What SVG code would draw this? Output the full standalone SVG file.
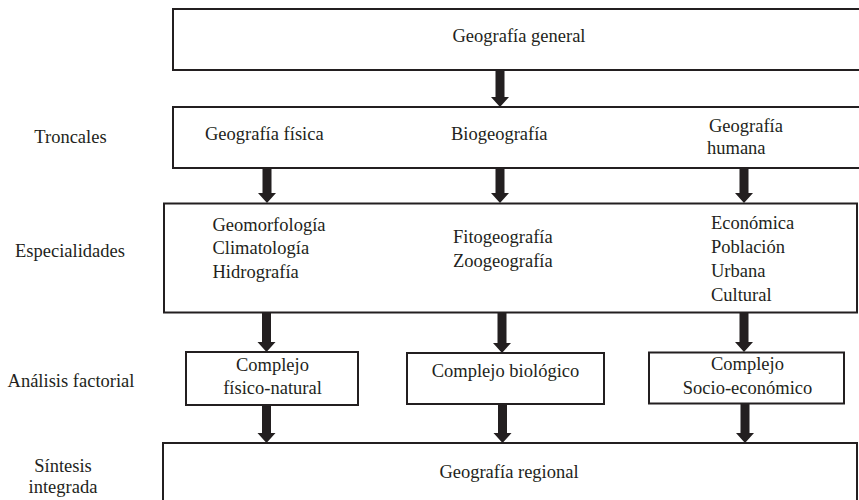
<svg xmlns="http://www.w3.org/2000/svg" width="859" height="500" viewBox="0 0 859 500">
  <style>
    .box { fill: #ffffff; stroke: #231f20; stroke-width: 2; }
    .arrow { fill: #231f20; stroke: none; }
    text { font-family: "Liberation Serif", "Times New Roman", serif; font-size: 18.5px; fill: #231f20; }
    .c { text-anchor: middle; }
  </style>
  <rect width="859" height="500" fill="#ffffff"/>

  <!-- row labels -->
  <g id="labels">
    <text class="c" x="70.5" y="142.5">Troncales</text>
    <text class="c" x="70" y="256.5">Especialidades</text>
    <text class="c" x="71" y="387">Análisis factorial</text>
    <text class="c" x="63" y="471.5">Síntesis</text>
    <text class="c" x="63" y="493">integrada</text>
  </g>

  <g id="general">
    <rect class="box" x="173" y="9" width="700" height="61"/>
    <text class="c" x="519" y="41.5">Geografía general</text>
  </g>

  <g id="troncales">
    <rect class="box" x="173" y="107" width="700" height="61"/>
    <text x="205" y="140">Geografía física</text>
    <text x="451" y="140">Biogeografía</text>
    <text x="709" y="132">Geografía</text>
    <text x="707" y="153.5">humana</text>
  </g>

  <g id="especialidades">
    <rect class="box" x="164" y="203.5" width="693" height="109"/>
    <text x="212.5" y="230.5">Geomorfología</text>
    <text x="212.5" y="254">Climatología</text>
    <text x="212.5" y="278">Hidrografía</text>
    <text x="453" y="243">Fitogeografía</text>
    <text x="453" y="266.5">Zoogeografía</text>
    <text x="711" y="228.5">Económica</text>
    <text x="711" y="253">Población</text>
    <text x="711" y="277">Urbana</text>
    <text x="711" y="301">Cultural</text>
  </g>

  <g id="complejo-fisico">
    <rect class="box" x="186" y="352" width="172" height="53"/>
    <text class="c" x="272.5" y="370.5">Complejo</text>
    <text class="c" x="272.5" y="394">físico-natural</text>
  </g>

  <g id="complejo-biologico">
    <rect class="box" x="407" y="353" width="197" height="51"/>
    <text class="c" x="505.5" y="376.5">Complejo biológico</text>
  </g>

  <g id="complejo-socio">
    <rect class="box" x="649" y="352.5" width="195" height="51"/>
    <text class="c" x="747.5" y="370">Complejo</text>
    <text class="c" x="747.5" y="394">Socio-económico</text>
  </g>

  <g id="regional">
    <rect class="box" x="163" y="443" width="694" height="80"/>
    <text class="c" x="509" y="478">Geografía regional</text>
  </g>

  <!-- block arrows: shaft 9 wide, head 18 wide and 10 tall -->
  <g id="connectors">
    <path class="arrow" d="M495.5,70 H504.5 V97 H509 L500,107 L491,97 H495.5 Z"/>
    <path class="arrow" d="M262.5,168 H271.5 V193 H276 L267,203 L258,193 H262.5 Z"/>
    <path class="arrow" d="M495.5,168 H504.5 V193 H509 L500,203 L491,193 H495.5 Z"/>
    <path class="arrow" d="M739.5,168 H748.5 V193 H753 L744,203 L735,193 H739.5 Z"/>
    <path class="arrow" d="M262,313 H271 V342 H275.5 L266.5,352 L257.5,342 H262 Z"/>
    <path class="arrow" d="M497.5,313 H506.5 V343 H511 L502,353 L493,343 H497.5 Z"/>
    <path class="arrow" d="M739.5,313 H748.5 V342 H753 L744,352 L735,342 H739.5 Z"/>
    <path class="arrow" d="M262,405 H271 V433 H275.5 L266.5,443 L257.5,433 H262 Z"/>
    <path class="arrow" d="M498,404 H507 V433 H511.5 L502.5,443 L493.5,433 H498 Z"/>
    <path class="arrow" d="M740.5,404 H749.5 V433 H754 L745,443 L736,433 H740.5 Z"/>
  </g>
</svg>
